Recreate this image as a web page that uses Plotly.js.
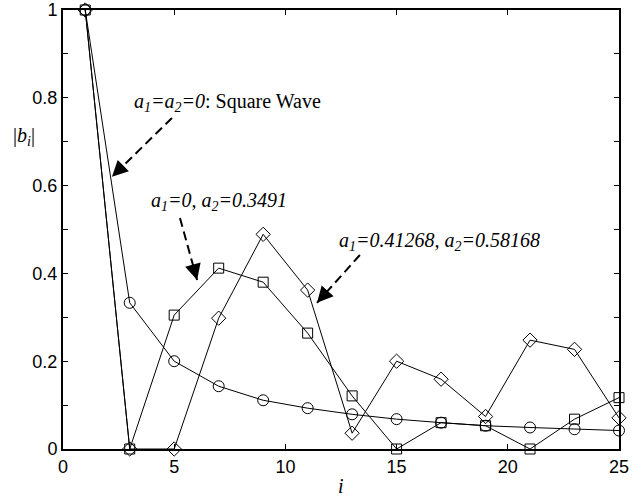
<!DOCTYPE html>
<html>
<head>
<meta charset="utf-8">
<script src="https://cdn.plot.ly/plotly-3.0.1.min.js"></script>
<style>html,body{margin:0;padding:0;background:#fff;}#chart{width:643px;height:496px;}</style>
</head>
<body>
<div id="chart"></div>
<script>
// harmonic index i (odd)
var harmonics = [1, 3, 5, 7, 9, 11, 13, 15, 17, 19, 21, 23, 25];
// |b_i| for a1=a2=0 (square wave)
var squareWave = [1, 0.333, 0.2, 0.143, 0.111, 0.093, 0.079, 0.068, 0.06, 0.053, 0.049, 0.045, 0.042];
// |b_i| for a1=0, a2=0.3491
var seriesA2 = [1, 0, 0.305, 0.412, 0.38, 0.264, 0.121, 0, 0.06, 0.053, 0, 0.068, 0.117];
// |b_i| for a1=0.41268, a2=0.58168
var seriesA1A2 = [1, 0, 0, 0.298, 0.489, 0.362, 0.036, 0.2, 0.159, 0.074, 0.248, 0.227, 0.071];

var lineStyle = {color: '#000', width: 1};
function trace(y, sym, size) {
  return {
    x: harmonics, y: y, type: 'scatter', mode: 'lines+markers',
    line: lineStyle, cliponaxis: false,
    marker: {symbol: sym, size: size, color: '#000', line: {color: '#000', width: 1}},
    showlegend: false
  };
}
var data = [
  trace(squareWave, 'circle-open', 11),
  trace(seriesA2, 'square-open', 10),
  trace(seriesA1A2, 'diamond-open', 11)
];

var serif = 'Liberation Serif, Times New Roman, serif';
var annFont = {family: serif, size: 20, color: '#000'};

// arrows: tail and tip in data coordinates; head direction offset in pixels
var arrows = [
  {tail: [4.90, 0.754], tip: [2.20, 0.620], dir: [0.713, -0.701]},
  {tail: [5.26, 0.526], tip: [6.03, 0.385], dir: [-0.264, -0.964]},
  {tail: [13.35, 0.442], tip: [11.42, 0.333], dir: [0.667, -0.745]}
];
var shapes = arrows.map(function (a) {
  return {type: 'line', xref: 'x', yref: 'y', x0: a.tail[0], y0: a.tail[1], x1: a.tip[0], y1: a.tip[1],
    line: {color: '#000', width: 2, dash: '9px,5px'}};
});
var annotations = arrows.map(function (a) {
  return {x: a.tip[0], y: a.tip[1], xref: 'x', yref: 'y', text: '', showarrow: true,
    arrowhead: 2, arrowsize: 1.6, arrowwidth: 2, arrowcolor: '#000',
    ax: a.dir[0] * 14, ay: a.dir[1] * 14, standoff: 0};
});
annotations = annotations.concat([
  {x: 3.10, y: 0.79, xref: 'x', yref: 'y', xanchor: 'left', yanchor: 'middle', showarrow: false,
   text: '<i>a<sub>1</sub>=a<sub>2</sub>=0</i>: Square Wave', font: annFont},
  {x: 3.87, y: 0.563, xref: 'x', yref: 'y', xanchor: 'left', yanchor: 'middle', showarrow: false,
   text: '<i>a<sub>1</sub>=0, a<sub>2</sub>=0.3491</i>', font: annFont},
  {x: 12.32, y: 0.472, xref: 'x', yref: 'y', xanchor: 'left', yanchor: 'middle', showarrow: false,
   text: '<i>a<sub>1</sub>=0.41268, a<sub>2</sub>=0.58168</i>', font: annFont},
  {x: -0.070, y: 0.711, xref: 'paper', yref: 'paper', xanchor: 'center', yanchor: 'middle', showarrow: false,
   text: '|<i>b<sub>i</sub></i>|', font: annFont},
  {x: 0.5, y: -0.084, xref: 'paper', yref: 'paper', xanchor: 'center', yanchor: 'middle', showarrow: false,
   text: '<i>i</i>', font: annFont, height: 18}
]);

var tickFont = {family: 'Liberation Sans, Arial, sans-serif', size: 18, color: '#000'};
var layout = {
  width: 643, height: 496,
  margin: {l: 63, r: 24, t: 10, b: 47},
  paper_bgcolor: '#fff', plot_bgcolor: '#fff',
  xaxis: {range: [0, 25], dtick: 5, tick0: 0, ticks: 'inside', ticklen: 5, tickwidth: 1, tickcolor: '#000',
    showline: true, linewidth: 2, linecolor: '#000', mirror: 'ticks', showgrid: false, zeroline: false,
    tickfont: tickFont},
  yaxis: {range: [0, 1], dtick: 0.2, tick0: 0, ticks: 'inside', ticklen: 5, tickwidth: 1, tickcolor: '#000',
    minor: {dtick: 0.1, ticks: 'inside', ticklen: 5, tickwidth: 1, tickcolor: '#000', showgrid: false},
    showline: true, linewidth: 2, linecolor: '#000', mirror: 'ticks', showgrid: false, zeroline: false,
    tickfont: tickFont},
  shapes: shapes,
  annotations: annotations
};
Plotly.newPlot('chart', data, layout, {staticPlot: true, displayModeBar: false});
</script>
</body>
</html>
